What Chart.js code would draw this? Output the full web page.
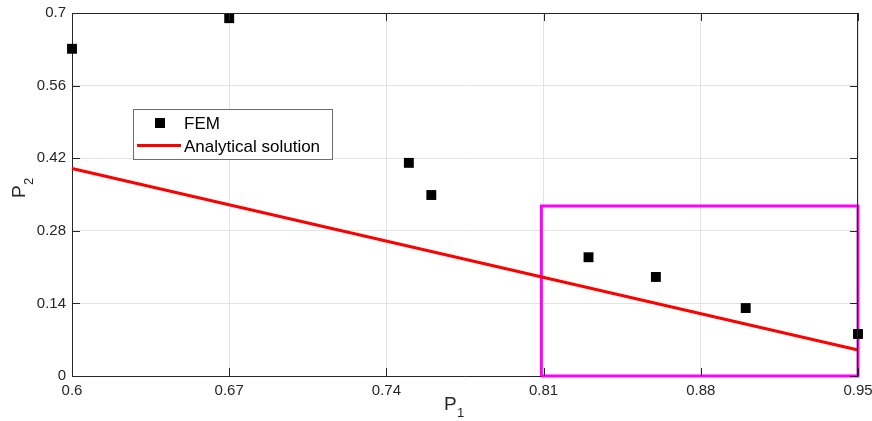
<!DOCTYPE html>
<html>
<head>
<meta charset="utf-8">
<script src="https://cdn.jsdelivr.net/npm/chart.js@4"></script>
<style>
  html, body { margin: 0; padding: 0; background: #fff; }
  #wrap { width: 872px; height: 421px; }
</style>
</head>
<body>
<div id="wrap"><canvas id="p1p2Chart" width="872" height="421"></canvas></div>
<script>
// FEM results vs analytical curve
const femP1 = [0.6, 0.67, 0.75, 0.76, 0.83, 0.86, 0.90, 0.95];
const femP2 = [0.631, 0.690, 0.411, 0.349, 0.229, 0.191, 0.131, 0.081];
const analyticP1 = [0.6, 0.95];
const analyticP2 = [0.40, 0.05];
// magenta zoom box corners
const boxP1 = [0.809, 0.95, 0.95, 0.809, 0.809];
const boxP2 = [0, 0, 0.328, 0.328, 0];
const xTicks = [0.6, 0.67, 0.74, 0.81, 0.88, 0.95];
const yTicks = [0, 0.14, 0.28, 0.42, 0.56, 0.7];

const FONT = '"Liberation Sans", Arial, sans-serif';
const AXIS = '#262626';

const toPts = (xs, ys) => xs.map((x, i) => ({ x, y: ys[i] }));

// box around the plot, inward tick marks, axis titles with subscripts, legend
const matlabFrame = {
  id: 'matlabFrame',
  afterDraw(chart) {
    const { ctx, chartArea: a, scales } = chart;
    ctx.save();
    ctx.strokeStyle = AXIS;
    ctx.lineWidth = 1;
    ctx.beginPath();
    ctx.moveTo(a.left, a.top + 0.5); ctx.lineTo(a.right, a.top + 0.5);
    ctx.moveTo(a.right - 0.5, a.top); ctx.lineTo(a.right - 0.5, a.bottom);
    xTicks.forEach(v => {
      const px = Math.round(scales.x.getPixelForValue(v)) + 0.5;
      ctx.moveTo(px, a.bottom); ctx.lineTo(px, a.bottom - 8);
      ctx.moveTo(px, a.top); ctx.lineTo(px, a.top + 8);
    });
    yTicks.forEach(v => {
      const py = Math.round(scales.y.getPixelForValue(v)) + 0.5;
      ctx.moveTo(a.left, py); ctx.lineTo(a.left + 8, py);
      ctx.moveTo(a.right, py); ctx.lineTo(a.right - 8, py);
    });
    ctx.stroke();

    // axis titles
    ctx.fillStyle = AXIS;
    ctx.textBaseline = 'alphabetic';
    ctx.textAlign = 'left';
    ctx.font = '19px ' + FONT;
    ctx.fillText('P', 444, 410);
    ctx.font = '13px ' + FONT;
    ctx.fillText('1', 457, 417);

    ctx.save();
    ctx.translate(25, 198);
    ctx.rotate(-Math.PI / 2);
    ctx.font = '19px ' + FONT;
    ctx.fillText('P', 0, 0);
    ctx.font = '13px ' + FONT;
    ctx.fillText('2', 13, 8);
    ctx.restore();

    // legend
    const lx = 133, ly = 109, lw = 199, lh = 50;
    ctx.fillStyle = '#fff';
    ctx.fillRect(lx, ly, lw, lh);
    ctx.strokeStyle = '#6e6e6e';
    ctx.strokeRect(lx + 0.5, ly + 0.5, lw, lh);
    ctx.fillStyle = '#000';
    ctx.fillRect(155, 118, 10, 10);
    ctx.strokeStyle = '#ff0000';
    ctx.lineWidth = 3;
    ctx.beginPath();
    ctx.moveTo(137, 145.5); ctx.lineTo(181, 145.5);
    ctx.stroke();
    ctx.fillStyle = '#000';
    ctx.font = '17px ' + FONT;
    ctx.textBaseline = 'middle';
    ctx.fillText('FEM', 184, 124);
    ctx.fillText('Analytical solution', 184, 147);
    ctx.restore();
  }
};

new Chart(document.getElementById('p1p2Chart'), {
  type: 'scatter',
  data: {
    datasets: [
      {
        label: 'FEM',
        data: toPts(femP1, femP2),
        pointStyle: 'rect',
        pointRadius: 7,
        pointHoverRadius: 7,
        backgroundColor: '#000',
        borderColor: '#000',
        borderWidth: 0,
        clip: false
      },
      {
        label: 'Analytical solution',
        data: toPts(analyticP1, analyticP2),
        showLine: true,
        borderColor: '#ff0000',
        borderWidth: 3,
        pointRadius: 0,
        clip: false
      },
      {
        label: 'zoom box',
        data: toPts(boxP1, boxP2),
        showLine: true,
        borderColor: '#ff00ff',
        borderWidth: 3,
        pointRadius: 0,
        clip: false
      }
    ]
  },
  options: {
    responsive: false,
    animation: false,
    devicePixelRatio: 1,
    layout: { padding: { left: 0, right: 14, top: 13, bottom: 0 } },
    plugins: { legend: { display: false }, tooltip: { enabled: false } },
    scales: {
      x: {
        type: 'linear', min: 0.6, max: 0.95,
        afterBuildTicks: s => { s.ticks = xTicks.map(v => ({ value: v })); },
        afterFit: s => { s.height = 45; s.paddingLeft = 0; s.paddingRight = 0; },
        ticks: { color: AXIS, font: { family: FONT, size: 15 }, padding: 6, maxRotation: 0, callback: v => String(v) },
        grid: { color: '#e3e3e3', drawTicks: false },
        border: { color: AXIS }
      },
      y: {
        type: 'linear', min: 0, max: 0.7,
        afterBuildTicks: s => { s.ticks = yTicks.map(v => ({ value: v })); },
        afterFit: s => { s.width = 72; s.paddingTop = 0; s.paddingBottom = 0; },
        ticks: { color: AXIS, font: { family: FONT, size: 15 }, padding: 6, callback: v => String(v) },
        grid: { color: '#e3e3e3', drawTicks: false },
        border: { color: AXIS }
      }
    }
  },
  plugins: [matlabFrame]
});
</script>
</body>
</html>
